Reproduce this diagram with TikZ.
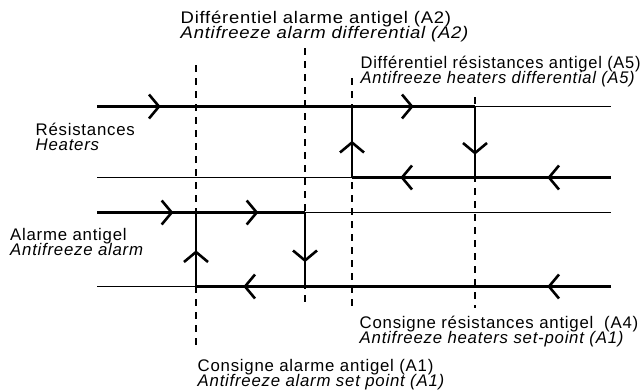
\documentclass[tikz,border=0pt]{standalone}
\usepackage{fontspec}
\setmainfont{Liberation Sans}[LetterSpace=4.5]
\newfontfamily\widerA{Liberation Sans}[LetterSpace=4.5,FakeStretch=1.10]
\newfontfamily\widerB{Liberation Sans}[LetterSpace=4.5,FakeStretch=0.98]
\usetikzlibrary{decorations.markings}
\tikzset{
  thinline/.style={line width=1.2pt},
  thickline/.style={line width=2.7pt},
  dashline/.style={line width=1.1pt, dash pattern=on 7pt off 6pt},
  chevline/.style={line width=2.6pt, solid},
  chevat/.style={postaction={decorate,decoration={markings,
      mark=at position #1 with {\draw[chevline] (-10pt,-12pt) -- (0pt,0pt) -- (-10pt,12pt);}}}},
  lbl/.style={anchor=base west, inner sep=0pt, font=\fontsize{16.8}{15}\selectfont},
  lbli/.style={lbl, font=\fontsize{16.8}{15}\selectfont\itshape},
  lblA/.style={lbl, font=\fontsize{16.8}{15}\widerA},
  lblAi/.style={lbl, font=\fontsize{16.8}{15}\widerA\itshape},
  lblB/.style={lbl, font=\fontsize{16.8}{15}\widerB},
  lblBi/.style={lbl, font=\fontsize{16.8}{15}\widerB\itshape}
}
\begin{document}
\begin{tikzpicture}[x=1pt,y=-1pt]
\useasboundingbox (0,0) rectangle (640,391);
% coordinates
\coordinate (hL1) at (97,106.5);  \coordinate (hR1) at (611,106.5);
\coordinate (hL0) at (97,177.5);  \coordinate (hR0) at (611,177.5);
\coordinate (hOff) at (475,106.5); \coordinate (hOffB) at (475,177.5);
\coordinate (hOn) at (352,177.5); \coordinate (hOnT) at (352,106.5);
\coordinate (aL1) at (97,212.5);  \coordinate (aR1) at (611,212.5);
\coordinate (aL0) at (97,286.5);  \coordinate (aR0) at (611,286.5);
\coordinate (aOff) at (305,212.5); \coordinate (aOffB) at (305,286.5);
\coordinate (aOn) at (196,286.5); \coordinate (aOnT) at (196,212.5);
\coordinate (d1t) at (196,65);  \coordinate (d1b) at (196,345);
\coordinate (d2t) at (305,48);  \coordinate (d2b) at (305,308);
\coordinate (d3t) at (352,78);  \coordinate (d3b) at (352,308);
\coordinate (d4t) at (475,97);  \coordinate (d4b) at (475,308);
% dashed guides
\draw[dashline] (d1t) -- (d1b);
\draw[dashline] (d2t) -- (d2b);
\draw[dashline] (d3t) -- (d3b);
\draw[dashline] (d4t) -- (d4b);
% thin state lines
\draw[thinline] (hL1) -- (hR1);
\draw[thinline] (hL0) -- (hR0);
\draw[thinline] (aL1) -- (aR1);
\draw[thinline] (aL0) -- (aR0);
% heaters hysteresis
\draw[thickline, chevat=62pt, chevat=315pt] (hL1) -- (hOff);
\draw[thickline, chevat=46.5pt] (hOff) -- (hOffB);
\draw[thickline, chevat=62pt, chevat=209pt] (hR0) -- (hOn);
\draw[thickline, chevat=35pt] (hOn) -- (hOnT);
% alarm hysteresis
\draw[thickline, chevat=74.7pt, chevat=159.7pt] (aL1) -- (aOff);
\draw[thickline, chevat=48pt] (aOff) -- (aOffB);
\draw[thickline, chevat=62pt, chevat=366pt] (aR0) -- (aOn);
\draw[thickline, chevat=34.5pt] (aOn) -- (aOnT);
% labels
\node[lblA]  (a2fr) at (180.5,23.5) {Différentiel alarme antigel (A2)};
\node[lblAi] (a2en) at (180.5,38.5) {Antifreeze alarm differential (A2)};
\node[lblB]  (a5fr) at (360.5,68.5) {Différentiel résistances antigel (A5)};
\node[lblBi] (a5en) at (360.5,83) {Antifreeze heaters differential (A5)};
\node[lbl]  (hfr) at (35.5,135) {Résistances};
\node[lbli] (hen) at (35.5,150.5) {Heaters};
\node[lbl]  (afr) at (10,240) {Alarme antigel};
\node[lbli] (aen) at (10,255) {Antifreeze alarm};
\node[lbl]  (a4fr) at (359.5,328.3) {Consigne résistances antigel\ \ (A4)};
\node[lbli] (a4en) at (359.5,343) {Antifreeze heaters set-point (A1)};
\node[lbl]  (a1fr) at (197.5,371.7) {Consigne alarme antigel (A1)};
\node[lbli] (a1en) at (197.5,386) {Antifreeze alarm set point (A1)};
\end{tikzpicture}
\end{document}
